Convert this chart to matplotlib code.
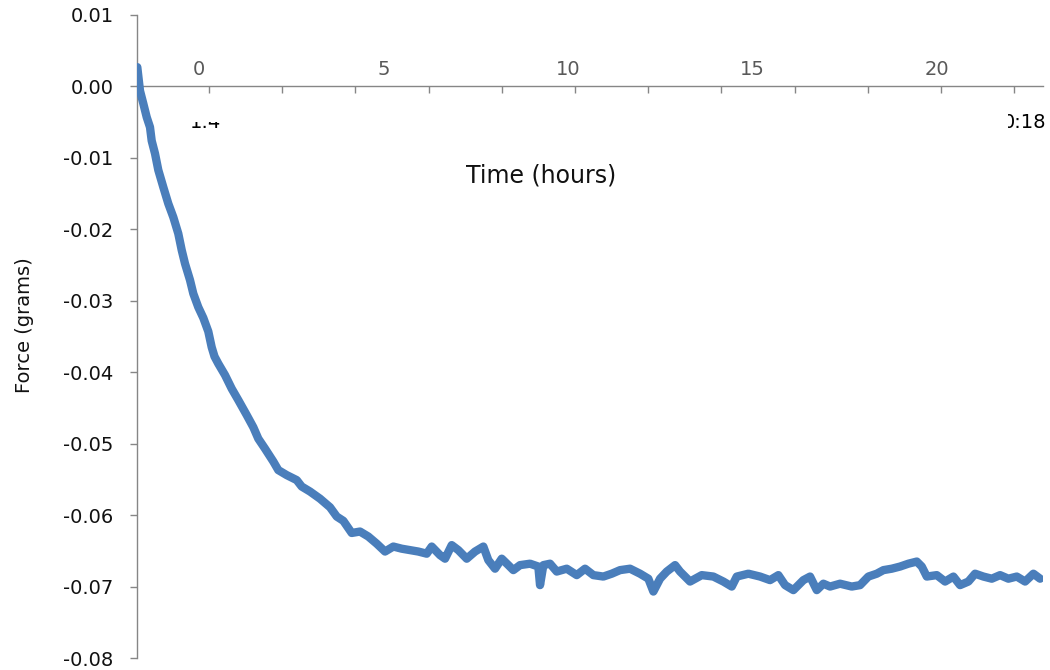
import matplotlib
matplotlib.use("Agg")
import matplotlib.pyplot as plt
from matplotlib.transforms import Bbox

# ---- data ----
hours = [-1.672, -1.599, -1.509, -1.417, -1.328, -1.282, -1.192, -1.103, -0.967, -0.832,
         -0.696, -0.561, -0.469, -0.379, -0.244, -0.154, -0.019, 0.117, 0.252, 0.344,
         0.420, 0.523, 0.705, 0.886, 1.065, 1.293, 1.472, 1.607, 1.789, 2.014,
         2.149, 2.377, 2.648, 2.783, 3.008, 3.279, 3.550, 3.732, 3.911, 4.138,
         4.363, 4.588, 4.816, 5.041, 5.266, 5.493, 5.718, 5.943, 6.171, 6.306,
         6.531, 6.667, 6.848, 7.027, 7.255, 7.480, 7.705, 7.840, 8.022, 8.203,
         8.382, 8.518, 8.699, 8.970, 9.195, 9.241, 9.331, 9.512, 9.694, 9.965,
         10.236, 10.461, 10.686, 10.957, 11.184, 11.409, 11.680, 11.951, 12.176, 12.312,
         12.493, 12.675, 12.900, 13.035, 13.306, 13.623, 13.938, 14.209, 14.436, 14.572,
         14.886, 15.203, 15.474, 15.699, 15.881, 16.106, 16.377, 16.558, 16.740, 16.919,
         17.100, 17.371, 17.688, 17.913, 18.138, 18.366, 18.545, 18.772, 18.997, 19.222,
         19.450, 19.585, 19.721, 19.992, 20.217, 20.442, 20.623, 20.848, 21.030, 21.255,
         21.482, 21.707, 21.932, 22.160, 22.385, 22.610, 22.791]
force = [0.0027, -0.0006, -0.0024, -0.0043, -0.0057, -0.0076, -0.0094, -0.0117, -0.0141, -0.0164,
         -0.0183, -0.0206, -0.0229, -0.0248, -0.0271, -0.0290, -0.0309, -0.0324, -0.0343, -0.0365,
         -0.0378, -0.0388, -0.0404, -0.0423, -0.0439, -0.0460, -0.0477, -0.0493, -0.0507, -0.0525,
         -0.0537, -0.0544, -0.0551, -0.0560, -0.0567, -0.0577, -0.0589, -0.0602, -0.0608, -0.0625,
         -0.0623, -0.0630, -0.0640, -0.0651, -0.0644, -0.0647, -0.0649, -0.0651, -0.0654, -0.0644,
         -0.0656, -0.0661, -0.0642, -0.0649, -0.0661, -0.0651, -0.0644, -0.0663, -0.0675, -0.0661,
         -0.0670, -0.0677, -0.0670, -0.0668, -0.0672, -0.0698, -0.0670, -0.0668, -0.0679, -0.0675,
         -0.0684, -0.0675, -0.0684, -0.0686, -0.0682, -0.0677, -0.0675, -0.0682, -0.0689, -0.0707,
         -0.0689, -0.0679, -0.0670, -0.0679, -0.0693, -0.0684, -0.0686, -0.0693, -0.0700, -0.0686,
         -0.0682, -0.0686, -0.0691, -0.0684, -0.0698, -0.0705, -0.0691, -0.0686, -0.0705, -0.0696,
         -0.0700, -0.0696, -0.0700, -0.0698, -0.0686, -0.0682, -0.0677, -0.0675, -0.0672, -0.0668,
         -0.0665, -0.0672, -0.0686, -0.0684, -0.0693, -0.0686, -0.0698, -0.0693, -0.0682, -0.0686,
         -0.0689, -0.0684, -0.0689, -0.0686, -0.0693, -0.0682, -0.0689]

hour_ticks = [0, 5, 10, 15, 20]
hour_labels = ["0", "5", "10", "15", "20"]
y_ticks = [-0.08, -0.07, -0.06, -0.05, -0.04, -0.03, -0.02, -0.01, 0.00, 0.01]
y_labels = ["-0.08", "-0.07", "-0.06", "-0.05", "-0.04", "-0.03", "-0.02", "-0.01", "0.00", "0.01"]
time_axis_ticks = [0.27 + 1.984 * k for k in range(12)]   # hidden time axis tick marks

plt.rcParams['font.family'] = ['DejaVu Sans']

W, H = 1050, 670
fig = plt.figure(figsize=(W / 100, H / 100), dpi=100)
fig.patch.set_facecolor("white")
ax = fig.add_axes([137 / W, 1 - 658 / H, (1043 - 137) / W, (658 - 15) / H])

ax.plot(hours, force, color="#4a7ebb", lw=6, solid_joinstyle="round", solid_capstyle="round", zorder=3)

ax.set_xlim(-1.68, 22.87)
ax.set_ylim(-0.08, 0.01)

grey = "#868686"
for s in ["right", "bottom"]:
    ax.spines[s].set_visible(False)
ax.spines["left"].set_color(grey)
ax.spines["left"].set_linewidth(1.0)
ax.spines["top"].set_position(("data", 0))
ax.spines["top"].set_color(grey)
ax.spines["top"].set_linewidth(1.0)

ax.xaxis.set_ticks_position("top")
ax.set_xticks(hour_ticks)
ax.set_xticklabels(hour_labels)
ax.set_xticks(time_axis_ticks, minor=True)
ax.tick_params(axis="x", which="major", length=0, pad=5.5, labelsize=14, labelcolor="#595959")
ax.tick_params(axis="x", which="minor", direction="in", length=5, width=1, color=grey)

ax.set_yticks(y_ticks)
ax.set_yticklabels(y_labels)
ax.tick_params(axis="y", which="major", direction="out", length=5, width=1, color=grey,
               pad=12, labelsize=14, labelcolor="#111111")

fig.text(541 / W, 1 - 175 / H, "Time (hours)", ha="center", va="center", fontsize=17, color="#111111")
fig.text(25 / W, 1 - 325 / H, "Force (grams)", ha="center", va="center", rotation=90,
         fontsize=14, color="#111111")

# partially hidden time-axis labels
t1 = fig.text(205 / W, 1 - 128 / H, "1:4", ha="center", va="baseline", fontsize=14, color="black")
t1.set_clip_box(Bbox.from_extents(185, H - 136, 226, H - 122))
t1.set_clip_on(True)
t2 = fig.text(1046 / W, 1 - 128 / H, "0:18", ha="right", va="baseline", fontsize=14, color="black")
t2.set_clip_box(Bbox.from_extents(1008, H - 136, 1047, H - 105))
t2.set_clip_on(True)

fig.savefig("out.png", dpi=100)
